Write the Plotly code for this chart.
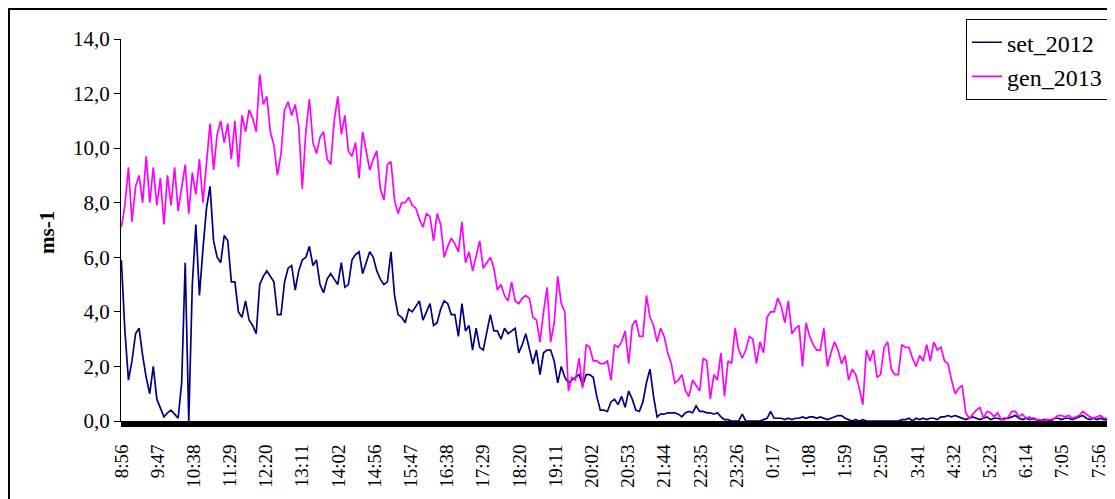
import numpy as np
import plotly.graph_objects as go

# one sample every 5 records (records are ~1 per minute, 8:56 -> ~8:10 next day)
step = 5
tick_labels = ['8:56', '9:47', '10:38', '11:29', '12:20', '13:11', '14:02', '14:56',
               '15:47', '16:38', '17:29', '18:20', '19:11', '20:02', '20:53', '21:44',
               '22:35', '23:26', '0:17', '1:08', '1:59', '2:50', '3:41', '4:32',
               '5:23', '6:14', '7:05', '7:56']

set_2012 = [
    5.9, 3.3, 1.5, 2.2, 3.2, 3.4, 2.4, 1.6, 1.0, 2.0,
    0.8, 0.45, 0.15, 0.3, 0.4, 0.25, 0.1, 1.4, 5.8, 0.0,
    5.0, 7.2, 4.6, 6.3, 7.8, 8.6, 6.6, 6.0, 5.8, 6.8,
    6.6, 5.1, 5.1, 4.0, 3.8, 4.4, 3.7, 3.5, 3.2, 5.0,
    5.3, 5.5, 5.3, 5.1, 3.9, 3.9, 5.1, 5.6, 5.7, 4.8,
    5.5, 5.9, 6.0, 6.4, 5.7, 5.9, 5.0, 4.7, 5.2, 5.4,
    5.2, 5.0, 5.8, 4.9, 5.0, 5.9, 6.1, 6.2, 5.4, 5.8,
    6.2, 6.0, 5.5, 5.2, 5.0, 5.1, 6.2, 4.6, 3.9, 3.8,
    3.6, 4.1, 4.0, 4.2, 4.4, 3.7, 4.0, 4.3, 3.5, 3.6,
    4.1, 4.4, 4.3, 3.9, 3.9, 3.1, 4.3, 3.3, 3.5, 2.6,
    3.4, 2.7, 2.6, 3.3, 3.9, 3.3, 3.3, 3.0, 3.4, 3.2,
    3.3, 3.4, 2.5, 2.8, 3.2, 2.6, 2.1, 2.6, 1.7, 2.5,
    2.6, 2.6, 2.2, 1.4, 2.0, 1.6, 1.4, 1.5, 1.6, 1.7,
    1.3, 1.7, 1.7, 1.6, 0.9, 0.4, 0.4, 0.35, 0.7, 0.8,
    0.6, 0.9, 0.5, 1.1, 0.8, 0.4, 0.35, 0.7, 1.4, 1.9,
    0.9, 0.15, 0.25, 0.25, 0.3, 0.3, 0.3, 0.25, 0.15, 0.3,
    0.35, 0.3, 0.55, 0.35, 0.35, 0.3, 0.3, 0.25, 0.3, 0.15,
    0.05, 0.05, 0.0, 0.0, 0.0, 0.25, 0.0, 0.0, 0.0, 0.0,
    0.0, 0.05, 0.1, 0.35, 0.1, 0.1, 0.1, 0.05, 0.1, 0.05,
    0.1, 0.1, 0.15, 0.1, 0.15, 0.15, 0.1, 0.15, 0.1, 0.05,
    0.1, 0.15, 0.2, 0.2, 0.1, 0.05, 0.0, 0.05, 0.0, 0.05,
    0.0, 0.0, 0.0, 0.0, 0.0, 0.0, 0.0, 0.0, 0.0, 0.0,
    0.05, 0.05, 0.1, 0.0, 0.1, 0.05, 0.1, 0.05, 0.1, 0.1,
    0.05, 0.15, 0.15, 0.2, 0.15, 0.2, 0.15, 0.1, 0.05, 0.1,
    0.15, 0.1, 0.05, 0.1, 0.15, 0.05, 0.1, 0.1, 0.05, 0.1,
    0.1, 0.15, 0.2, 0.1, 0.05, 0.1, 0.05, 0.1, 0.05, 0.0,
    0.05, 0.05, 0.0, 0.1, 0.1, 0.05, 0.1, 0.1, 0.05, 0.1,
    0.15, 0.2, 0.1, 0.05, 0.1, 0.05, 0.1, 0.05, 0.05,
]

gen_2013 = [
    7.1, 7.9, 9.3, 7.3, 8.6, 9.0, 8.0, 9.7, 8.0, 9.3,
    7.9, 8.9, 7.2, 9.0, 7.9, 9.3, 7.7, 8.6, 9.4, 7.6,
    9.1, 8.3, 9.6, 8.0, 9.6, 10.9, 9.2, 10.5, 11.0, 10.2,
    10.9, 9.6, 11.0, 9.3, 11.2, 10.6, 11.4, 11.1, 10.6, 12.7,
    11.6, 11.9, 10.6, 10.1, 9.0, 9.8, 11.4, 11.7, 11.2, 11.6,
    10.8, 8.5, 10.6, 11.8, 10.2, 9.8, 10.4, 10.6, 9.6, 9.4,
    11.0, 11.9, 10.5, 11.2, 9.9, 9.7, 10.2, 8.9, 10.6, 9.9,
    9.2, 9.6, 9.9, 8.5, 8.1, 9.4, 9.5, 8.1, 7.6, 8.0,
    8.0, 8.2, 7.9, 7.8, 7.4, 7.1, 7.6, 7.5, 6.6, 7.6,
    7.2, 6.0, 6.4, 6.7, 6.5, 6.2, 7.3, 5.8, 6.2, 5.5,
    6.0, 6.6, 5.6, 5.8, 6.0, 5.6, 4.8, 5.0, 4.6, 4.4,
    5.1, 4.4, 4.3, 4.5, 4.6, 4.5, 3.8, 3.7, 2.9, 4.0,
    4.9, 2.9, 3.6, 5.3, 4.3, 4.0, 1.1, 1.6, 1.5, 2.3,
    1.2, 2.8, 2.7, 2.2, 2.2, 2.1, 2.1, 2.2, 1.5, 2.8,
    2.7, 2.9, 3.3, 2.1, 3.5, 3.7, 3.1, 3.1, 4.6, 3.8,
    3.5, 2.9, 3.4, 3.1, 2.5, 2.1, 1.4, 1.5, 1.7, 1.1,
    0.9, 1.5, 1.3, 1.1, 2.3, 2.2, 0.8, 1.7, 1.5, 2.5,
    0.9, 2.2, 2.1, 3.4, 2.6, 2.3, 2.6, 3.1, 3.0, 2.1,
    2.9, 2.5, 3.8, 4.0, 4.0, 4.5, 4.2, 3.6, 4.4, 3.2,
    3.4, 3.5, 2.0, 3.6, 3.1, 2.8, 2.6, 2.6, 3.4, 2.0,
    2.5, 2.9, 2.6, 2.1, 2.4, 1.5, 1.9, 1.7, 1.2, 0.6,
    2.6, 2.2, 2.6, 1.6, 1.7, 2.7, 2.9, 1.9, 1.7, 1.7,
    2.8, 2.7, 2.7, 2.3, 2.0, 2.4, 2.2, 2.8, 2.2, 2.9,
    2.6, 2.7, 2.2, 2.1, 1.5, 1.0, 1.2, 1.3, 0.3, 0.1,
    0.25, 0.4, 0.5, 0.1, 0.35, 0.3, 0.15, 0.3, 0.05, 0.05,
    0.15, 0.35, 0.35, 0.15, 0.25, 0.1, 0.15, 0.05, 0.05, 0.05,
    0.0, 0.05, 0.05, 0.1, 0.2, 0.2, 0.15, 0.2, 0.1, 0.15,
    0.2, 0.35, 0.25, 0.15, 0.1, 0.15, 0.2, 0.1, 0.1,
]

x_idx = np.arange(len(gen_2013)) * step
tick_pos = [i * 51 for i in range(len(tick_labels))]

serif = 'Liberation Serif, Times New Roman, serif'

fig = go.Figure()

fig.add_trace(go.Scatter(
    x=x_idx, y=set_2012, mode='lines', name='set_2012',
    line=dict(color='#000080', width=1.7)
))
fig.add_trace(go.Scatter(
    x=x_idx, y=gen_2013, mode='lines', name='gen_2013',
    line=dict(color='#FF00FF', width=1.7)
))

fig.update_xaxes(
    range=[-0.5, x_idx[-1] + 0.5],
    tickmode='array', tickvals=tick_pos, ticktext=tick_labels,
    tickangle=-90, ticks='outside', ticklen=5, tickcolor='black',
    ticklabelstandoff=10,
    minor=dict(tickmode='linear', tick0=0, dtick=1.4, ticks='outside',
               ticklen=5, tickwidth=1, tickcolor='black'),
    showline=True, linecolor='black', linewidth=1,
    showgrid=False, zeroline=False,
    tickfont=dict(family=serif, size=19, color='black')
)

fig.update_yaxes(
    range=[0, 14],
    tickmode='array', tickvals=list(range(0, 15, 2)),
    ticktext=[f'{v},0' for v in range(0, 15, 2)],
    ticks='outside', ticklen=6, tickcolor='black',
    showline=True, linecolor='black', linewidth=1,
    showgrid=False, zeroline=False,
    tickfont=dict(family=serif, size=21, color='black')
)

fig.add_annotation(
    text='<b>ms-1</b>', textangle=-90,
    xref='paper', yref='paper', x=-0.075, y=0.495,
    xanchor='center', yanchor='middle',
    showarrow=False, font=dict(family=serif, size=21, color='black')
)

# outer chart border
fig.add_shape(
    type='rect', xref='paper', yref='paper',
    x0=-0.1135, x1=1.02, y0=-0.25, y1=1.0785,
    line=dict(color='black', width=2)
)

# the page body adds an 8px offset, so the figure is 8px smaller than the window
fig.update_layout(
    width=1107, height=491,
    margin=dict(l=113, r=7, t=31, b=78),
    plot_bgcolor='white', paper_bgcolor='white',
    legend=dict(
        x=1.0, y=1.052, xanchor='right', yanchor='top',
        bgcolor='white', bordercolor='black', borderwidth=1,
        font=dict(family=serif, size=24, color='black'),
        tracegroupgap=0
    )
)

fig.write_html("out.html")
